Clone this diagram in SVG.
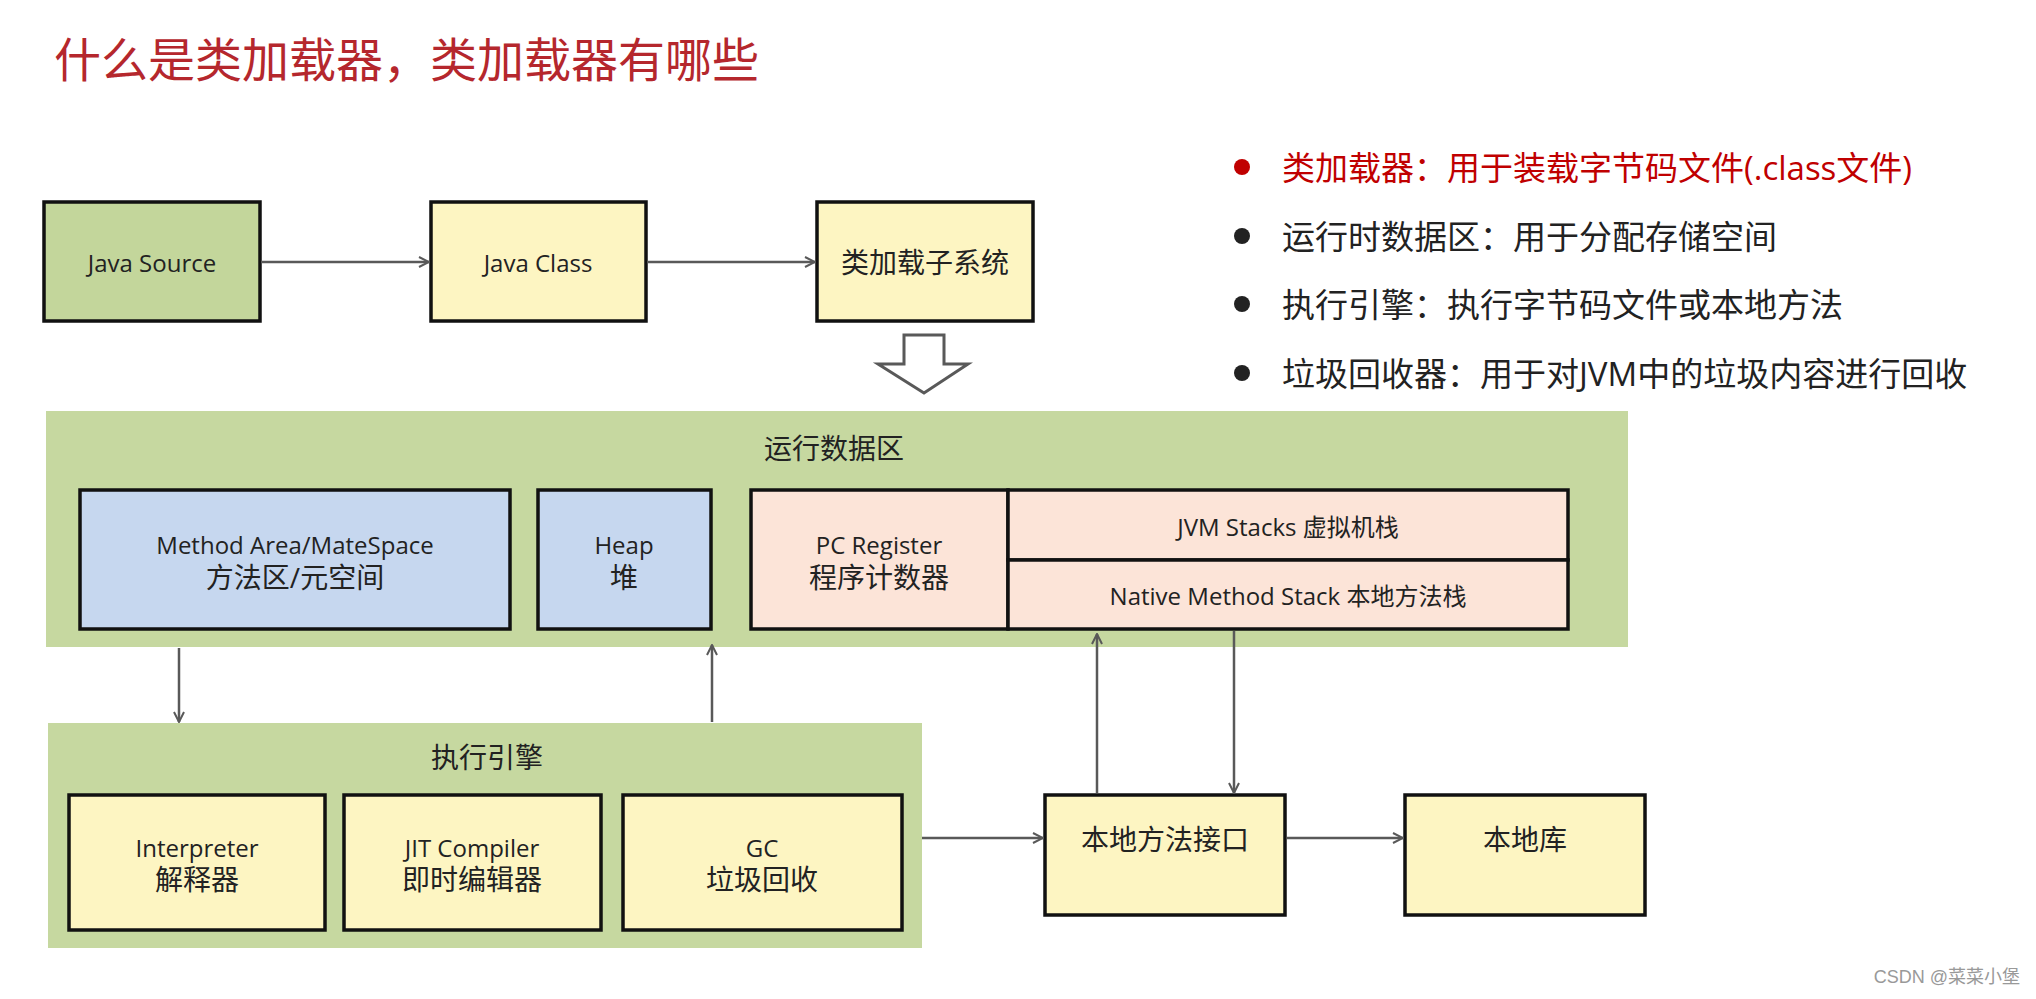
<svg xmlns="http://www.w3.org/2000/svg" width="2036" height="999" viewBox="0 0 2036 999">
<defs>
<marker id="ah" viewBox="0 0 12 12" refX="11" refY="6" markerWidth="12" markerHeight="12" markerUnits="userSpaceOnUse" orient="auto"><path d="M1,1 L11,6 L1,11" fill="none" stroke="#595959" stroke-width="2"/></marker>
<style>
text{font-family:"Open Sans","Noto Sans CJK SC",sans-serif;fill:#222;text-anchor:middle;dominant-baseline:central}
.b{stroke:#111;stroke-width:3.5}
.y{fill:#fdf5c2}.g{fill:#c3d69b}.bl{fill:#c6d7ef}.p{fill:#fce4d8}
.area{fill:#c6d8a0}
.t{font-size:24px}.t2{font-size:28px}
.c{stroke:#595959;stroke-width:2.5;fill:none;marker-end:url(#ah)}
.bt{text-anchor:start;font-size:33px}
</style>
</defs>
<rect width="2036" height="999" fill="#fff"/>
<text x="54" y="59" style="text-anchor:start;font-size:47px;fill:#b5272d">什么是类加载器，类加载器有哪些</text>
<g id="bullets">
<circle cx="1242" cy="167" r="8" fill="#c00000"/><text class="bt" x="1282" y="167" style="fill:#c00000">类加载器：用于装载字节码文件(.class文件)</text>
<circle cx="1242" cy="236" r="8" fill="#222"/><text class="bt" x="1282" y="236">运行时数据区：用于分配存储空间</text>
<circle cx="1242" cy="304" r="8" fill="#222"/><text class="bt" x="1282" y="304">执行引擎：执行字节码文件或本地方法</text>
<circle cx="1242" cy="373" r="8" fill="#222"/><text class="bt" x="1282" y="373">垃圾回收器：用于对JVM中的垃圾内容进行回收</text>
</g>
<g id="javaSource"><rect class="b g" x="44" y="202" width="216" height="119"/><text class="t" x="152" y="262">Java Source</text></g>
<g id="javaClass"><rect class="b y" x="431" y="202" width="215" height="119"/><text class="t" x="538" y="262">Java Class</text></g>
<g id="classLoader"><rect class="b y" x="817" y="202" width="216" height="119"/><text class="t2" x="925" y="262">类加载子系统</text></g>
<g id="bigArrow"><path d="M904,335 H944 V364 H968 L924,393 L878,364 H904 Z" fill="#fff" stroke="#595959" stroke-width="3"/></g>
<g id="runtimeArea">
<rect class="area" x="46" y="411" width="1582" height="236"/>
<text class="t2" x="834" y="448">运行数据区</text>
</g>
<g id="methodArea"><rect class="b bl" x="80" y="490" width="430" height="139"/><text class="t" x="295" y="544">Method Area/MateSpace</text><text class="t2" x="295" y="577">方法区/元空间</text></g>
<g id="heap"><rect class="b bl" x="538" y="490" width="173" height="139"/><text class="t" x="624" y="544">Heap</text><text class="t2" x="624" y="577">堆</text></g>
<g id="pcRegister"><rect class="b p" x="751" y="490" width="257" height="139"/><text class="t" x="879" y="544">PC Register</text><text class="t2" x="879" y="577">程序计数器</text></g>
<g id="jvmStacks"><rect class="b p" x="1008" y="490" width="560" height="70"/><text class="t" x="1288" y="526">JVM Stacks 虚拟机栈</text></g>
<g id="nativeStack"><rect class="b p" x="1008" y="560" width="560" height="69"/><text class="t" x="1288" y="595">Native Method Stack 本地方法栈</text></g>
<g id="execEngine"><rect class="area" x="48" y="723" width="874" height="225"/><text class="t2" x="487" y="757">执行引擎</text></g>
<g id="interpreter"><rect class="b y" x="69" y="795" width="256" height="135"/><text class="t" x="197" y="847">Interpreter</text><text class="t2" x="197" y="879">解释器</text></g>
<g id="jit"><rect class="b y" x="344" y="795" width="257" height="135"/><text class="t" x="472" y="847">JIT Compiler</text><text class="t2" x="472" y="879">即时编辑器</text></g>
<g id="gc"><rect class="b y" x="623" y="795" width="279" height="135"/><text class="t" x="762" y="847">GC</text><text class="t2" x="762" y="879">垃圾回收</text></g>
<g id="nativeInterface"><rect class="b y" x="1045" y="795" width="240" height="120"/><text class="t2" x="1165" y="839">本地方法接口</text></g>
<g id="nativeLib"><rect class="b y" x="1405" y="795" width="240" height="120"/><text class="t2" x="1525" y="839">本地库</text></g>
<g id="connectors">
<line class="c" x1="261" y1="262" x2="429" y2="262"/>
<line class="c" x1="647" y1="262" x2="815" y2="262"/>
<line class="c" x1="179" y1="648" x2="179" y2="722"/>
<line class="c" x1="712" y1="722" x2="712" y2="645"/>
<line class="c" x1="1097" y1="793" x2="1097" y2="634"/>
<line class="c" x1="1234" y1="631" x2="1234" y2="793"/>
<line class="c" x1="922" y1="838" x2="1043" y2="838"/>
<line class="c" x1="1287" y1="838" x2="1403" y2="838"/>
</g>
<text x="2020" y="977" style="text-anchor:end;font-size:18px;fill:#999;font-family:'Liberation Sans','Noto Sans CJK SC',sans-serif">CSDN @菜菜小堡</text>
</svg>
